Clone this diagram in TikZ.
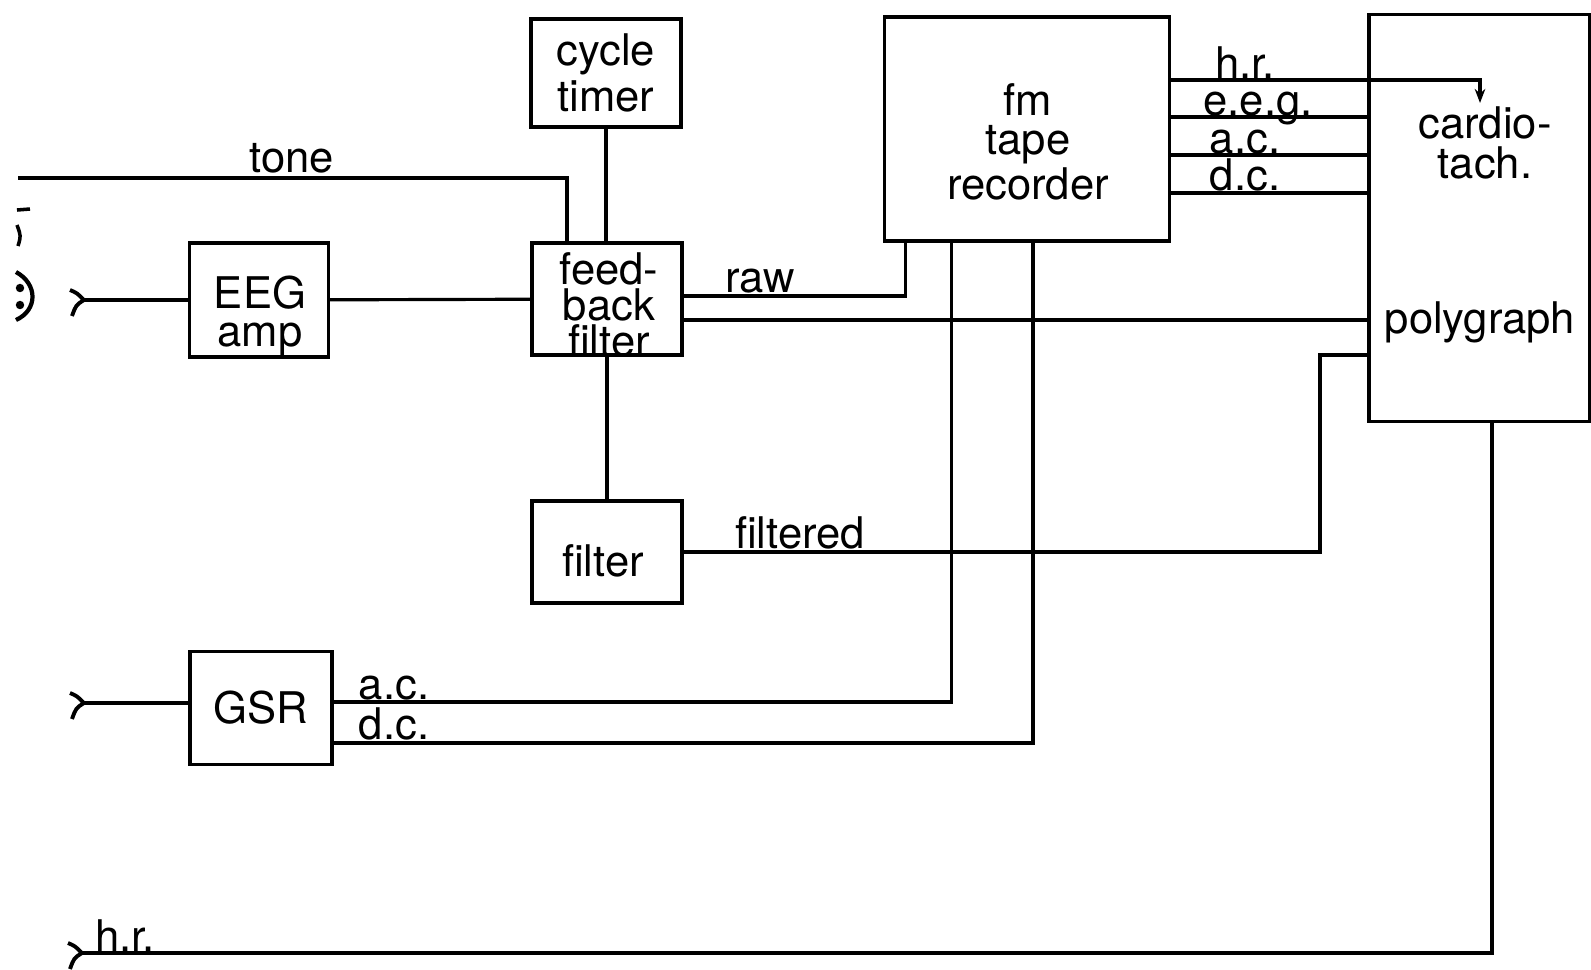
\documentclass[tikz,border=0pt]{standalone}
\usepackage{fontspec}
\setmainfont{TeX Gyre Heros}
\usetikzlibrary{arrows.meta, calc}

\begin{document}
\begin{tikzpicture}[
    x=0.01cm,
    y=-0.01cm,
    every node/.style={font=\fontsize{12.4}{12.4}\selectfont},
    unit/.style={
        draw=black,
        line width=0.9pt,
        align=center,
        inner sep=0pt
    },
    cable/.style={
        line width=0.9pt
    },
    signal/.style={
        anchor=base,
        inner sep=0pt
    },
    electrode/.pic={
        \draw[line width=1.1pt]
            (-14,-10) .. controls (-7,-7) .. (0,0)
            .. controls (-8,5) .. (-12,16);
    }
]

\useasboundingbox (0,0) rectangle (1591,969);

% ============================================================
% BLOCOS
% ============================================================

\node[
    unit,
    minimum width=1.5cm,
    minimum height=1.08cm,
    font=\fontsize{12.4}{13.3}\selectfont
] (timer) at (606,73)
{cycle\\timer};

\node[
    unit,
    minimum width=1.5cm,
    minimum height=1.12cm
] (fbf) at (607,299) {};

\node[
    align=center,
    inner sep=0pt,
    font=\fontsize{12.4}{10.2}\selectfont
] (fbftxt) at (609,305)
{feed-\\back\\filter};

\node[
    unit,
    minimum width=1.39cm,
    minimum height=1.14cm
] (eeg) at (259,300) {};

\node[
    align=center,
    inner sep=0pt,
    font=\fontsize{12.4}{10.6}\selectfont
] (eegtxt) at (260,316)
{EEG\\amp};

\node[
    unit,
    minimum width=1.5cm,
    minimum height=1.02cm
] (filt) at (607,552) {};

\node (filttxt) at (603,561) {filter};

\node[
    unit,
    minimum width=1.42cm,
    minimum height=1.13cm
] (gsr) at (261,708)
{GSR};

% Gravador
\node[
    unit,
    minimum width=2.85cm,
    minimum height=2.24cm
] (tape) at (1027,129) {};

\node[
    align=center,
    font=\fontsize{12.4}{11}\selectfont
] (tapetxt) at (1028,142)
{fm\\tape\\recorder};

% Poligrafo
\node[
    unit,
    minimum width=2.2cm,
    minimum height=4.07cm
] (poly) at (1479,218) {};

\node[
    align=center,
    font=\fontsize{12.4}{11.6}\selectfont
] (cardio) at (1485,143)
{cardio-\\tach.};

\node (polytxt) at (1480,322) {polygraph};

% ============================================================
% ENTRADAS
% ============================================================

\coordinate (toneL) at (18,178);
\coordinate (eegIn) at (84,300);
\coordinate (gsrIn) at (84,703);
\coordinate (hrIn) at (82,953);
\coordinate (cardioIn) at (1480,103);

\pic at (eegIn) {electrode};
\pic at (gsrIn) {electrode};
\pic at (hrIn) {electrode};

% Figura cortada na margem
\draw[line width=1pt] (17,210) -- (30,209);
\draw[line width=1pt] (17,225) .. controls (21,236) .. (18,246);
\draw[line width=1.2pt] (16,272) .. controls (38,284) and (38,310) .. (16,320);
\fill (20,288) circle[radius=1.2pt];
\fill (20,305) circle[radius=1.2pt];

% ============================================================
% LIGACOES
% ============================================================

\draw[cable] (toneL) -| ([xshift=-0.4cm]fbf.north);
\draw[cable] (timer.south) -- (timer.south |- fbf.north);
\draw[cable] (eegIn) -- (eeg.west |- eegIn);
\draw[cable] (eeg) -- (fbf);
\draw[cable] (fbf) -- (filt);

\draw[cable]
    ([yshift=0.03cm]fbf.east) -| ([xshift=0.23cm]tape.south west);
\draw[cable]
    ([yshift=-0.21cm]fbf.east) -- ([yshift=-0.21cm]fbf.east -| poly.west);

\coordinate (fltTurn) at (1320,355);
\draw[cable] (filt.east) -| (fltTurn) -- (fltTurn -| poly.west);

% GSR
\draw[cable] (gsrIn) -- (gsr.west |- gsrIn);
\draw[cable]
    ([yshift=0.06cm]gsr.east) -| ([xshift=0.69cm]tape.south west);
\draw[cable]
    ([yshift=-0.35cm]gsr.east) -| ([xshift=1.5cm]tape.south west);

% h.r. direto
\draw[cable] (hrIn) -| ([xshift=0.13cm]poly.south);

% Gravador -> poligrafo
\foreach \y in {117,155,193}
    \draw[cable] (tape.east |- 0,\y) -- (poly.west |- 0,\y);
\draw[
    cable,
    -{Stealth[length=4pt,width=3pt]}
] (tape.east |- 0,80) -| (cardioIn);

% ============================================================
% ROTULOS
% ============================================================

\node[signal] (tonelbl) at (292,172) {tone};
\node[signal] (rawlbl) at (760,292) {raw};
\node[signal] (filtlbl) at (800,548) {filtered};
\node[signal] (gsraclbl) at (394,699) {a.c.};
\node[signal] (gsrdclbl) at (394,739) {d.c.};
\node[signal] (hrlbl) at (125,951) {h.r.};

\node[signal] (hrtop) at (1245,78) {h.r.};
\node[signal] (eegtop) at (1258,115) {e.e.g.};
\node[signal] (actop) at (1245,153) {a.c.};
\node[signal] (dctop) at (1245,190) {d.c.};

\end{tikzpicture}
\end{document}
